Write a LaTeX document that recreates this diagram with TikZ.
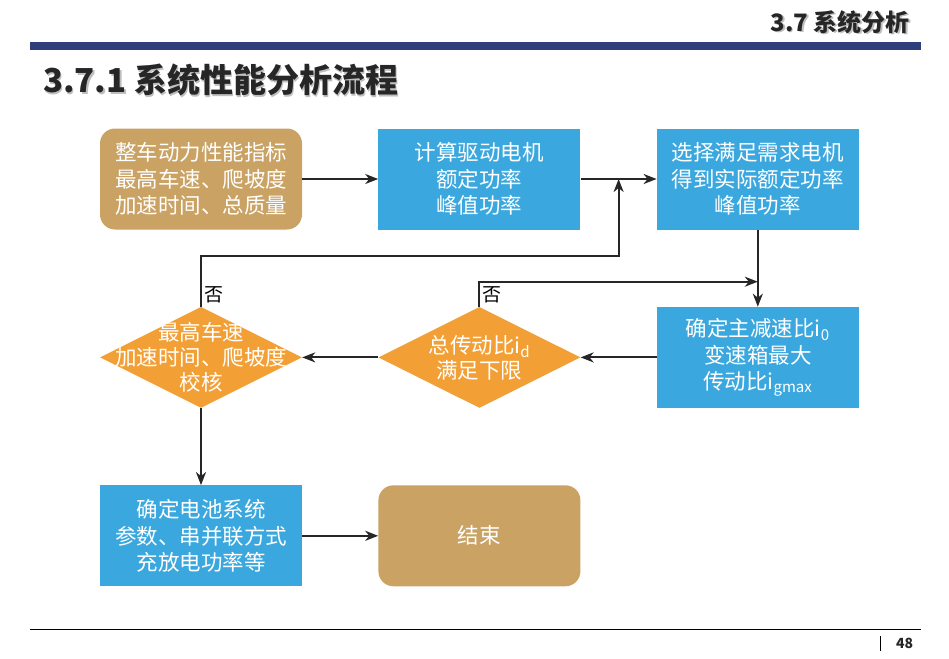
\documentclass[tikz,border=0pt]{standalone}
\usepackage{fontspec}
\setmainfont{Noto Sans CJK SC}
\usepackage{tikz}
\usetikzlibrary{arrows,arrows.meta,positioning,shapes.geometric,calc}
\definecolor{tan}{HTML}{C9A264}
\definecolor{sky}{HTML}{3AA8DF}
\definecolor{amber}{HTML}{F2A036}
\definecolor{navy}{HTML}{2F3F7C}
\tikzset {
	step box/.style={rectangle, fill=sky, text=white, minimum width=202pt, minimum height=101pt,
					align=center, font=\fontsize{21.5}{26.5}\selectfont, inner sep=0pt},
	term box/.style={step box, fill=tan, rounded corners=15pt},
	check/.style={diamond, fill=amber, minimum width=202pt, minimum height=101pt, inner sep=0pt,
					label={[text=white, align=center, font=\fontsize{21.5}{25}\selectfont]center:#1}},
	flow/.style={-{Stealth[length=13pt, width=10pt, inset=4pt]}, line width=2pt, draw=black!85},
	no label/.style={font=\fontsize{19}{19}\selectfont, inner sep=3pt},
	headline/.style={font=\bfseries\fontsize{#1}{#1}\selectfont, text=black!85, inner sep=0pt}
}

\begin{document}
\begin{tikzpicture}[x=1pt, y=1pt]
					\useasboundingbox (0,0) rectangle (949,-658);
					% header
					\node[headline=24, text=black!25, anchor=east] at (911.5,-23.5) {3.7 系统分析};
					\node[headline=24, anchor=east] (head) at (910,-22) {3.7 系统分析};
					\fill[navy] (30,-42) rectangle (921,-50);
					\node[headline=33, text=black!25, anchor=west] at (44.5,-81.5) {3.7.1 系统性能分析流程};
					\node[headline=33, anchor=west] (title) at (43,-80) {3.7.1 系统性能分析流程};
					% flow chart
					\node [term box] (req) at (201,-179) {整车动力性能指标\\最高车速、爬坡度\\加速时间、总质量};
					\node [step box, right=76pt of req] (calc) {计算驱动电机\\额定功率\\峰值功率};
					\node [step box, right=76pt of calc] (motor) {选择满足需求电机\\得到实际额定功率\\峰值功率};
					\node [step box, below=77pt of motor] (ratio) {确定主减速比i\textsubscript{0}\\变速箱最大\\传动比i\textsubscript{gmax}};
					\node [check={总传动比i\textsubscript{d}\\满足下限}, left=76pt of ratio] (dratio) {};
					\node [check={最高车速\\加速时间、爬坡度\\校核}, left=76pt of dratio] (dspeed) {};
					\node [step box, below=77pt of dspeed] (batt) {确定电池系统\\参数、串并联方式\\充放电功率等};
					\node [term box, right=76pt of batt] (stop) {结束};
					\coordinate (join) at ($(calc.east)!.5!(motor.west)$);
					\coordinate (fork) at ($(motor.south)+(0,-52)$);
					\draw [flow] (req) -- (calc);
					\draw [flow] (calc) -- (motor);
					\draw [flow] (motor) -- (ratio);
					\draw [flow] (ratio) -- (dratio);
					\draw [flow] (dratio) -- (dspeed);
					\draw [flow] (dspeed) -- (batt);
					\draw [flow] (batt) -- (stop);
					% feedback
					\draw [flow] (dspeed.north) -- ++(0,51) -| (join);
					\draw [flow] (dratio.north) |- (fork);
					\node [no label, above right] at (dspeed.north) {否};
					\node [no label, above right] at (dratio.north) {否};
					% footer
					\draw [line width=0.8pt] (30,-629) -- (921,-629);
					\draw [line width=1pt] (880,-636) -- (880,-651);
					\node [headline=14, anchor=west] (page) at (896,-643) {48};
					\end{tikzpicture}
\end{document}
